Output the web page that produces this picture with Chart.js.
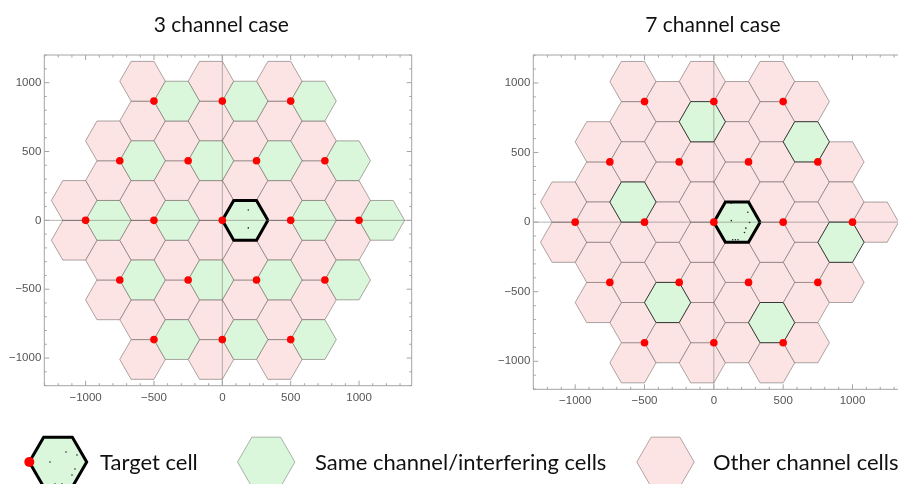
<!DOCTYPE html>
<html>
<head>
<meta charset="utf-8">
<script src="https://cdn.jsdelivr.net/npm/chart.js@4.4.1/dist/chart.umd.min.js"></script>
<style>
  html, body { margin: 0; padding: 0; background: #fff; }
  #wrap { position: relative; width: 898px; height: 484px; overflow: hidden; background: #fff; }
  #wrap canvas { position: absolute; left: 0; top: 0; }
</style>
</head>
<body>
<div id="wrap">
  <canvas id="leftPanel" width="898" height="484"></canvas>
  <canvas id="rightPanel" width="920" height="484"></canvas>
</div>
<script>
// Three-sector base-station sites on a 500 m triangular grid
const sites = [
  [-1000, 0], [-500, 0], [0, 0], [500, 0], [1000, 0],
  [-750, 433], [-250, 433], [250, 433], [750, 433],
  [-750, -433], [-250, -433], [250, -433], [750, -433],
  [-500, 866], [0, 866], [500, 866],
  [-500, -866], [0, -866], [500, -866]
];
const sectors = ['E', 'NW', 'SW'];
// Cell centre offset from its site, in cell radii
const sectorOffset = { E: [1, 0], NW: [-0.5, 0.866], SW: [-0.5, -0.866] };
const cellRadius = 500 / 3;

// Cells are named [siteX, siteY, sector]
const targetCell = [0, 0, 'E'];
const sameChannel3 = [
  [-1000, 0, 'E'], [-500, 0, 'E'], [500, 0, 'E'], [1000, 0, 'E'],
  [-750, 433, 'E'], [-250, 433, 'E'], [250, 433, 'E'], [750, 433, 'E'],
  [-750, -433, 'E'], [-250, -433, 'E'], [250, -433, 'E'], [750, -433, 'E'],
  [-500, 866, 'E'], [0, 866, 'E'], [500, 866, 'E'],
  [-500, -866, 'E'], [0, -866, 'E'], [500, -866, 'E']
];
const sameChannel7 = [
  [0, 866, 'SW'], [750, 433, 'NW'], [-500, 0, 'NW'],
  [1000, 0, 'SW'], [-250, -433, 'SW'], [500, -866, 'NW']
];

// Users dropped inside the target cell
const users3 = [[190, 75], [190, -55]];
const users7 = [[126, 136], [245, 71], [126, 11], [257, -3], [231, -43], [221, -74], [136, -126], [155, -126], [174, -126]];

const panelTitles = ['3 channel case', '7 channel case'];
const legendLabels = ['Target cell', 'Same channel/interfering cells', 'Other channel cells'];
const axisTicks = [-1000, -500, 0, 500, 1000];
const minorTickStep = 100;
const xRange = [-1302, 1385];
const yRange = [-1201, 1201];

const PINK = 'rgb(252,228,228)';
const GREEN = 'rgb(219,247,219)';
const EDGE = 'rgba(105,95,95,0.55)';
const RED = 'rgb(255,0,0)';
const FRAME = '#a4a4a4';
const LABEL = '#555';

function hexPoints(cx, cy, r) {
  const pts = [];
  for (let k = 0; k <= 6; k++) {
    const a = Math.PI / 3 * k;
    pts.push({ x: cx + r * Math.cos(a), y: cy + r * Math.sin(a) });
  }
  return pts;
}
function cellCentre(c) {
  const o = sectorOffset[c[2]];
  return [c[0] + o[0] * cellRadius, c[1] + o[1] * cellRadius];
}
const cellKey = c => c.join(',');

function buildDatasets(sameList, sameEdge, users) {
  const same = new Set(sameList.map(cellKey));
  const ds = [];
  ds.push({
    role: 'sites', type: 'scatter',
    data: sites.map(s => ({ x: s[0], y: s[1] })),
    pointRadius: 3.8, pointBackgroundColor: RED, pointBorderWidth: 0, order: 0
  });
  ds.push({
    type: 'scatter', data: users.map(u => ({ x: u[0], y: u[1] })),
    pointRadius: 0.8, pointBackgroundColor: '#222', pointBorderWidth: 0, order: 1
  });
  const tc = cellCentre(targetCell);
  ds.push({
    type: 'line', data: hexPoints(tc[0], tc[1], cellRadius), showLine: true, fill: 'shape',
    backgroundColor: GREEN, borderColor: '#000', borderWidth: 3, borderJoinStyle: 'miter',
    pointRadius: 0, tension: 0, order: 2
  });
  sites.forEach(s => sectors.forEach(sec => {
    const c = [s[0], s[1], sec];
    if (cellKey(c) === cellKey(targetCell)) return;
    const isSame = same.has(cellKey(c));
    const cc = cellCentre(c);
    ds.push({
      type: 'line', data: hexPoints(cc[0], cc[1], cellRadius), showLine: true, fill: 'shape',
      backgroundColor: isSame ? GREEN : PINK, borderColor: isSame ? sameEdge : EDGE,
      borderWidth: 1, pointRadius: 0, tension: 0, order: isSame ? 3 : 4
    });
  }));
  return ds;
}

const fmt = v => (v < 0 ? '\u2212' + Math.abs(v) : String(v));

// Axes through the origin, drawn just beneath the site markers
const originAxes = {
  id: 'originAxes',
  beforeDatasetDraw(chart, args) {
    if (chart.data.datasets[args.index].role !== 'sites') return;
    const { ctx, chartArea: a, scales: { x, y } } = chart;
    ctx.save();
    ctx.strokeStyle = 'rgba(90,90,90,0.45)';
    ctx.lineWidth = 1;
    const px = x.getPixelForValue(0), py = y.getPixelForValue(0);
    ctx.beginPath();
    ctx.moveTo(a.left, py); ctx.lineTo(a.right, py);
    ctx.moveTo(px, a.top); ctx.lineTo(px, a.bottom);
    ctx.stroke();
    ctx.restore();
  }
};

// Frame with inward major/minor ticks on all four sides
const frameTicks = {
  id: 'frameTicks',
  afterDatasetsDraw(chart) {
    const { ctx, chartArea: a, scales: { x, y } } = chart;
    ctx.save();
    ctx.strokeStyle = FRAME;
    ctx.lineWidth = 1;
    ctx.beginPath();
    ctx.rect(a.left, a.top, a.right - a.left, a.bottom - a.top);
    for (let v = Math.ceil(x.min / minorTickStep) * minorTickStep; v <= x.max; v += minorTickStep) {
      const len = v % 500 === 0 ? 5 : 2.5;
      const p = x.getPixelForValue(v);
      ctx.moveTo(p, a.bottom); ctx.lineTo(p, a.bottom - len);
      ctx.moveTo(p, a.top); ctx.lineTo(p, a.top + len);
    }
    for (let v = Math.ceil(y.min / minorTickStep) * minorTickStep; v <= y.max; v += minorTickStep) {
      const len = v % 500 === 0 ? 5 : 2.5;
      const p = y.getPixelForValue(v);
      ctx.moveTo(a.left, p); ctx.lineTo(a.left + len, p);
      ctx.moveTo(a.right, p); ctx.lineTo(a.right - len, p);
    }
    ctx.stroke();
    ctx.restore();
  }
};

// Panel heading centred over the origin
const panelTitle = {
  id: 'panelTitle',
  afterDraw(chart, args, opts) {
    const { ctx, scales: { x } } = chart;
    ctx.save();
    ctx.font = '21px Lato';
    ctx.fillStyle = '#111';
    ctx.textAlign = 'center';
    ctx.textBaseline = 'alphabetic';
    ctx.fillText(opts.text, x.getPixelForValue(0) - 1, 32);
    ctx.restore();
  }
};

function drawHex(ctx, cx, cy, r) {
  ctx.beginPath();
  for (let k = 0; k < 6; k++) {
    const a = Math.PI / 3 * k;
    const px = cx + r * Math.cos(a), py = cy - r * Math.sin(a);
    if (k === 0) ctx.moveTo(px, py); else ctx.lineTo(px, py);
  }
  ctx.closePath();
}

// Legend row along the bottom
const cellLegend = {
  id: 'cellLegend',
  afterDraw(chart) {
    const ctx = chart.ctx;
    const cy = 462, r = 28.7;
    ctx.save();
    // target cell icon
    drawHex(ctx, 58, cy, r);
    ctx.fillStyle = GREEN; ctx.fill();
    ctx.lineJoin = 'miter'; ctx.lineWidth = 3; ctx.strokeStyle = '#000'; ctx.stroke();
    ctx.fillStyle = '#222';
    [[48, 438], [66, 452], [50, 462], [77, 455], [75, 469], [72, 475], [62, 484], [55, 484]].forEach(p => {
      ctx.beginPath(); ctx.arc(p[0], p[1], 0.8, 0, Math.PI * 2); ctx.fill();
    });
    ctx.beginPath(); ctx.arc(29.3, cy, 5, 0, Math.PI * 2); ctx.fillStyle = RED; ctx.fill();
    // interfering cell icon
    drawHex(ctx, 266.2, cy, r);
    ctx.fillStyle = GREEN; ctx.fill();
    ctx.lineWidth = 1; ctx.strokeStyle = 'rgba(120,130,120,0.6)'; ctx.stroke();
    // other channel icon
    drawHex(ctx, 665.5, cy, r);
    ctx.fillStyle = PINK; ctx.fill();
    ctx.strokeStyle = 'rgba(130,110,110,0.6)'; ctx.stroke();
    // labels
    ctx.font = '22px Lato';
    ctx.fillStyle = '#111';
    ctx.textBaseline = 'alphabetic';
    ctx.fillText(legendLabels[0], 100, 470);
    ctx.fillText(legendLabels[1], 315, 470);
    ctx.fillText(legendLabels[2], 713, 470);
    ctx.restore();
  }
};

function scaleOptions(axis, size) {
  return {
    type: 'linear',
    min: axis === 'x' ? xRange[0] : yRange[0],
    max: axis === 'x' ? xRange[1] : yRange[1],
    afterBuildTicks: s => { s.ticks = axisTicks.map(v => ({ value: v })); },
    afterFit: s => { if (axis === 'x') s.height = size; else s.width = size; },
    ticks: {
      autoSkip: false, maxRotation: 0, minRotation: 0,
      padding: axis === 'x' ? 5 : 3,
      color: LABEL,
      font: { family: 'Liberation Sans', size: 11.5 },
      callback: v => fmt(v)
    },
    grid: { display: false, drawTicks: false },
    border: { display: false }
  };
}

function makePanel(canvasId, title, sameList, sameEdge, users, padding, withLegend) {
  const plugins = [originAxes, frameTicks, panelTitle];
  if (withLegend) plugins.push(cellLegend);
  return new Chart(document.getElementById(canvasId), {
    type: 'scatter',
    data: { datasets: buildDatasets(sameList, sameEdge, users) },
    options: {
      responsive: false,
      animation: false,
      devicePixelRatio: 1,
      layout: { padding },
      events: [],
      scales: { x: scaleOptions('x', 30), y: scaleOptions('y', 44.3) },
      plugins: {
        legend: { display: false },
        tooltip: { enabled: false },
        panelTitle: { text: title }
      }
    },
    plugins
  });
}

makePanel('leftPanel', panelTitles[0], sameChannel3, EDGE, users3,
  { left: 0, top: 55, right: 486.3, bottom: 68.3 }, true);
makePanel('rightPanel', panelTitles[1], sameChannel7, 'rgba(30,30,30,0.85)', users7,
  { left: 489, top: 55, right: 14.1, bottom: 64.7 }, false);
</script>
</body>
</html>
